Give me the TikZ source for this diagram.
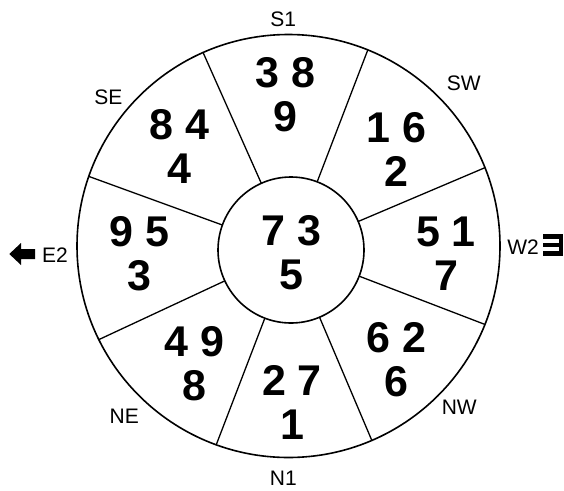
\documentclass[tikz,border=0pt]{standalone}
\usepackage{fontspec}
\setmainfont{Liberation Sans}
\usetikzlibrary{calc,positioning}
\tikzset{
  digits/.style={font=\fontsize{43}{44}\selectfont\bfseries,align=center,inner sep=0pt},
  compass/.style={font=\fontsize{21}{21}\selectfont,inner sep=0pt}
}
\begin{document}
\begin{tikzpicture}[x=1pt,y=-1pt,line width=1.6pt]
    \useasboundingbox (0,0) rectangle (564,490);
    \coordinate (hub) at (291,250);
    \coordinate (rim) at (288.5,246);
    \begin{scope}
      \clip (rim) circle (211.5);
      \foreach \a in {21,67,111,155,200,246,291,337}
        \draw[line width=1.3pt] ($(hub)+(\a:73)$) -- ($(hub)+(\a:240)$);
    \end{scope}
    \draw (rim) circle (211.5);
    \draw (hub) circle (73);
    \node[digits] (south) at (285.3,94.9) {3 8\\9};
    \node[digits] (southeast) at (179.3,146.7) {8 4\\4};
    \node[digits] (southwest) at (396.2,149.2) {1 6\\2};
    \node[digits] (east) at (139.3,253.3) {9 5\\3};
    \node[digits] (middle) at (291.7,253) {7 3\\5};
    \node[digits] (west) at (446,253.3) {5 1\\7};
    \node[digits] (northeast) at (194.3,363.8) {4 9\\8};
    \node[digits] (north) at (292,402.5) {2 7\\1};
    \node[digits] (northwest) at (396.7,359.5) {6 2\\6};
    \node[compass] (s1) at (283.3,19.7) {S1};
    \node[compass] (se) at (108.3,97.5) {SE};
    \node[compass] (sw) at (463.8,82.8) {SW};
    \node[compass] (e2) at (55,255) {E2};
    \node[compass] (w2) at (523,247.5) {W2};
    \node[compass] (ne) at (124.3,416.7) {NE};
    \node[compass] (nw) at (459.3,407.5) {NW};
    \node[compass] (n1) at (283.3,478.3) {N1};
    \fill (9.3,254) -- (21,243) -- (21,249) -- (35,249) -- (35,259) -- (21,259) -- (21,265) -- cycle;
    \fill (543.3,234) rectangle (563.3,238.5);
    \fill (543.3,242.5) rectangle (563.3,246.8);
    \fill (543.3,251) rectangle (563.3,255.5);
    \fill (558.5,234) rectangle (563.3,255.5);
\end{tikzpicture}
\end{document}
